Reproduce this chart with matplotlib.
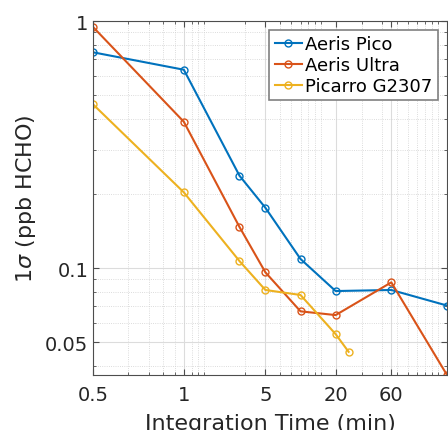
import matplotlib
matplotlib.use("Agg")
import matplotlib.pyplot as plt
from matplotlib.ticker import FixedLocator, LogLocator, NullFormatter

# averaging time (s) - axis labels are drawn as in the original figure
t_pico = [10, 60, 180, 300, 600, 1200, 3600, 10800]
t_ultra = [10, 60, 180, 300, 600, 1200, 3600, 10800]
t_picarro = [10, 60, 180, 300, 600, 1200, 1550]

sd_pico = [0.747, 0.635, 0.2365, 0.1754, 0.1088, 0.0807, 0.0815, 0.0705]
sd_ultra = [0.946, 0.391, 0.1466, 0.0961, 0.0668, 0.0645, 0.0875, 0.0369]
sd_picarro = [0.460, 0.2025, 0.1067, 0.0815, 0.0778, 0.054, 0.0458]

xtick_pos = [10, 60, 300, 1200, 3600]
xtick_labels = ["0.5", "1", "5", "20", "60"]
ytick_pos = [0.05, 0.1, 1]
ytick_labels = ["0.05", "0.1", "1"]

txt = "#262626"

fig = plt.figure(figsize=(4.48, 4.31), dpi=100)
ax = fig.add_axes([93 / 448, 55 / 431, 354 / 448, 354 / 431])

kw = dict(marker="o", markersize=5, markerfacecolor="none", linewidth=1.5, markeredgewidth=1.0)
ax.plot(t_pico, sd_pico, color="#0072BD", label="Aeris Pico", **kw)
ax.plot(t_ultra, sd_ultra, color="#D95319", label="Aeris Ultra", **kw)
ax.plot(t_picarro, sd_picarro, color="#EDB120", label="Picarro G2307", **kw)

ax.set_xscale("log")
ax.set_yscale("log")
ax.set_xlim(10, 10800)
ax.set_ylim(0.0369, 1)

ax.xaxis.set_major_locator(FixedLocator(xtick_pos))
ax.set_xticklabels(xtick_labels)
ax.yaxis.set_major_locator(FixedLocator(ytick_pos))
ax.set_yticklabels(ytick_labels)
ax.xaxis.set_minor_locator(LogLocator(base=10, subs=range(2, 10), numticks=20))
ax.yaxis.set_minor_locator(LogLocator(base=10, subs=range(2, 10), numticks=20))
ax.xaxis.set_minor_formatter(NullFormatter())
ax.yaxis.set_minor_formatter(NullFormatter())

ax.grid(True, which="major", color="#dcdcdc", linewidth=0.8, linestyle="-")
ax.grid(True, which="minor", color="#d0d0d0", linewidth=0.6, linestyle=":")
ax.set_axisbelow(True)

ax.tick_params(which="both", direction="in", top=True, right=True, colors="#4d4d4d",
               labelcolor=txt, labelsize=14)
ax.tick_params(which="major", length=4)
ax.tick_params(which="minor", length=2)
ax.tick_params(axis="x", pad=7)
for s in ax.spines.values():
    s.set_color("#4d4d4d")
    s.set_linewidth(0.8)

ax.set_xlabel("Integration Time (min)", fontsize=16, color=txt, labelpad=7)
ax.set_ylabel(r"1$\sigma$ (ppb HCHO)", fontsize=16, color=txt, labelpad=5)

leg = ax.legend(loc="upper right", fontsize=13, handlelength=1.5, handletextpad=0.2,
                borderpad=0.3, labelspacing=0.15, borderaxespad=0.5, fancybox=False,
                framealpha=1, edgecolor="#808080")
leg.get_frame().set_linewidth(1.2)
for t in leg.get_texts():
    t.set_color("black")

fig.savefig("out.png", dpi=100)
